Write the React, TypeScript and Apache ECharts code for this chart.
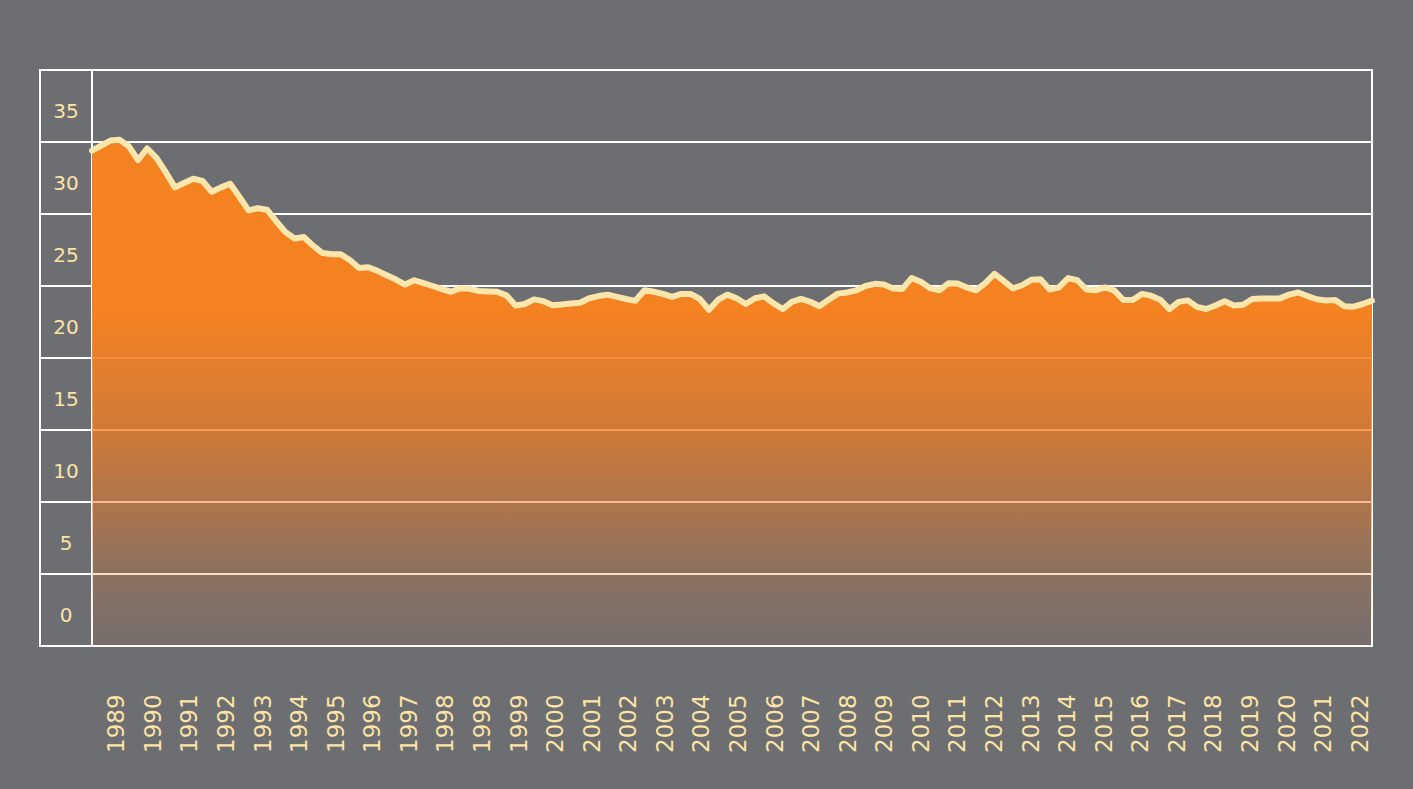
import React, { useEffect, useRef } from "react";
import * as echarts from "echarts";

const yearLabels = [
  "1989", "1990", "1991", "1992", "1993", "1994", "1995", "1996", "1997", "1998",
  "1998", "1999", "2000", "2001", "2002", "2003", "2004", "2005", "2006", "2007",
  "2008", "2009", "2010", "2011", "2012", "2013", "2014", "2015", "2016", "2017",
  "2018", "2019", "2020", "2021", "2022",
];

const quarters = ["Q1", "Q2", "Q3", "Q4"];

const yTickLabels = ["0", "5", "10", "15", "20", "25", "30", "35"];

const values = [
  34.4, 34.75, 35.1, 35.15, 34.7, 33.75, 34.55, 33.9, 32.9, 31.85, 32.15, 32.45, 32.3, 31.55, 31.85, 32.1,
  31.2, 30.25, 30.4, 30.3, 29.5, 28.75, 28.3, 28.4, 27.8, 27.3, 27.2, 27.2, 26.8, 26.25, 26.3, 26.05,
  25.75, 25.45, 25.1, 25.4, 25.2, 25.0, 24.78, 24.6, 24.85, 24.8, 24.65, 24.62, 24.6, 24.35, 23.65, 23.75,
  24.07, 23.95, 23.66, 23.72, 23.78, 23.84, 24.15, 24.3, 24.4, 24.25, 24.1, 23.97, 24.7, 24.6, 24.45, 24.24,
  24.45, 24.45, 24.1, 23.35, 24.05, 24.4, 24.15, 23.75, 24.15, 24.28, 23.8, 23.4, 23.9, 24.1, 23.9, 23.6,
  24.05, 24.47, 24.55, 24.7, 25.0, 25.15, 25.1, 24.83, 24.8, 25.55, 25.3, 24.85, 24.7, 25.19, 25.18, 24.9,
  24.7, 25.2, 25.85, 25.35, 24.83, 25.05, 25.43, 25.47, 24.75, 24.9, 25.55, 25.4, 24.75, 24.7, 24.9, 24.7,
  24.03, 24.02, 24.45, 24.33, 24.05, 23.4, 23.9, 24.0, 23.55, 23.4, 23.65, 23.94, 23.65, 23.7, 24.1, 24.14,
  24.14, 24.14, 24.4, 24.55, 24.3, 24.08, 23.99, 24.03, 23.6, 23.56, 23.75, 23.98,
];

const TEXT = "#fde4a6";
const LINE = "#fde6ac";
const BG = "#6d6e71";

export default function App() {
  const ref = useRef<HTMLDivElement>(null);

  useEffect(() => {
    document.body.style.margin = "0";
    if (!ref.current) return;
    const chart = echarts.init(ref.current, null, { renderer: "svg" });

    const categories = yearLabels.flatMap((y, i) => quarters.map((q) => `${y} ${q} (${i})`));

    chart.setOption({
      animation: false,
      backgroundColor: BG,
      grid: [
        { left: 40, right: 41, top: 70, bottom: 143, show: true, borderColor: "#ffffff", borderWidth: 2, backgroundColor: "transparent" },
        { left: 92, right: 41, top: 70, bottom: 143 },
        { left: 98, right: 35, top: 70, bottom: 143 },
        { left: 40, right: 41, top: 75, bottom: 138 },
      ],
      xAxis: [
        { type: "value", gridIndex: 0, min: 0, max: 1, show: false },
        {
          type: "category",
          gridIndex: 1,
          data: categories,
          boundaryGap: false,
          axisLine: { show: false },
          axisTick: { show: false },
          axisLabel: { show: false },
          splitLine: { show: false },
        },
        {
          type: "category",
          gridIndex: 2,
          data: yearLabels.map((y, i) => `${y}-${i}`),
          boundaryGap: true,
          axisLine: { show: false },
          axisTick: { show: false },
          splitLine: { show: false },
          axisLabel: {
            interval: 0,
            rotate: 90,
            align: "left",
            verticalAlign: "middle",
            margin: 107,
            color: TEXT,
            fontFamily: "DejaVu Sans",
            fontSize: 23,
            formatter: (_v: string, idx: number) => yearLabels[idx],
          },
        },
        { type: "value", gridIndex: 3, min: 0, max: 1, show: false },
      ],
      yAxis: [
        {
          type: "value",
          gridIndex: 0,
          position: "right",
          min: 0,
          max: 40,
          interval: 5,
          axisLine: { show: false },
          axisTick: { show: false },
          axisLabel: { show: false },
          splitLine: { show: true, lineStyle: { color: "#ffffff", width: 2 } },
        },
        {
          type: "category",
          gridIndex: 3,
          position: "left",
          data: yTickLabels,
          boundaryGap: true,
          axisLine: { show: false },
          axisTick: { show: false },
          splitLine: { show: false },
          axisLabel: {
            inside: true,
            align: "center",
            margin: 26,
            color: TEXT,
            fontFamily: "DejaVu Sans",
            fontSize: 20,
          },
        },
        {
          type: "value",
          gridIndex: 1,
          position: "left",
          min: 0,
          max: 40,
          interval: 5,
          axisLine: { show: true, lineStyle: { color: "#ffffff", width: 2 } },
          axisTick: { show: false },
          axisLabel: { show: false },
          splitLine: { show: false },
        },
        { type: "value", gridIndex: 2, min: 0, max: 40, show: false },
      ],
      series: [
        {
          type: "line",
          xAxisIndex: 1,
          yAxisIndex: 2,
          data: values,
          symbol: "none",
          smooth: false,
          lineStyle: { color: LINE, width: 6, join: "round", cap: "round" },
          areaStyle: {
            opacity: 1,
            color: new echarts.graphic.LinearGradient(0, 0, 0, 1, [
              { offset: 0, color: "rgba(245,130,32,1)" },
              { offset: 0.33, color: "rgba(245,130,32,1)" },
              { offset: 0.43, color: "rgba(243,128,34,0.9)" },
              { offset: 0.57, color: "rgba(240,126,36,0.75)" },
              { offset: 0.72, color: "rgba(238,124,38,0.5)" },
              { offset: 0.87, color: "rgba(235,122,40,0.22)" },
              { offset: 1, color: "rgba(235,122,40,0.06)" },
            ]),
          },
        },
      ],
    });

    return () => chart.dispose();
  }, []);

  return <div ref={ref} style={{ width: 1413, height: 789 }} />;
}
